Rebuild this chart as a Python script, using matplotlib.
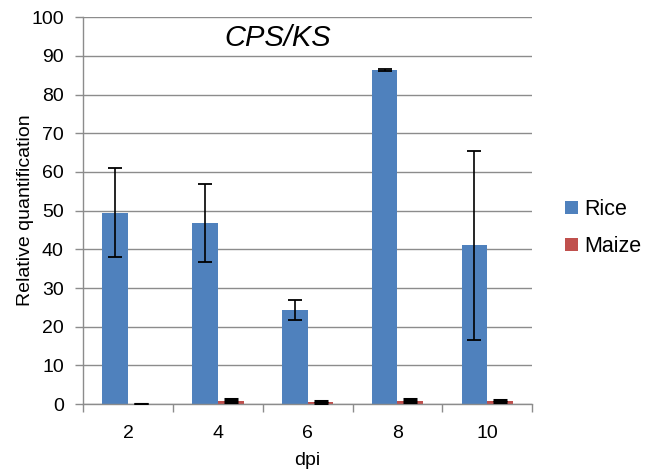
import numpy as np
import matplotlib.pyplot as plt

dpi_labels = ['2', '4', '6', '8', '10']
rice = [49.5, 46.8, 24.3, 86.3, 41.0]
rice_err = [11.5, 10.0, 2.5, 0.2, 24.4]
maize = [0.1, 0.9, 0.6, 0.9, 0.8]
maize_err = [0.05, 0.3, 0.3, 0.3, 0.2]

plt.rcParams['font.family'] = ['Liberation Sans', 'DejaVu Sans']

fig = plt.figure(figsize=(6.45, 4.76), dpi=100)
ax = fig.add_axes([0.129, 0.151, 0.696, 0.813])

x = np.arange(len(dpi_labels))
w = 0.286
grid_c = '#8c8c8c'

ax.bar(x - w/2, rice, w, color='#4f81bd', label='Rice', zorder=2)
ax.bar(x + w/2, maize, w, color='#c0504d', label='Maize', zorder=2)
ax.errorbar(x - w/2, rice, yerr=rice_err, fmt='none', ecolor='black',
            elinewidth=1.2, capsize=5, capthick=1.3, zorder=3)
ax.errorbar(x + w/2, maize, yerr=maize_err, fmt='none', ecolor='black',
            elinewidth=1.2, capsize=5, capthick=2.2, zorder=3)

ax.set_xlim(-0.5, len(dpi_labels) - 0.5)
ax.set_ylim(0, 100)
ax.set_yticks(range(0, 101, 10))
ax.yaxis.grid(True, color=grid_c, linewidth=1.0, zorder=0)
ax.set_axisbelow(True)

ax.set_xticks(x)
ax.set_xticklabels(dpi_labels)
ax.set_xticks(np.arange(-0.5, len(dpi_labels)), minor=True)
ax.tick_params(axis='x', which='major', length=0, labelsize=14, pad=15)
ax.tick_params(axis='x', which='minor', length=6, color=grid_c, width=1.0)
ax.tick_params(axis='y', length=6, color=grid_c, width=1.0, labelsize=14, pad=8)

for s in ['top', 'right']:
    ax.spines[s].set_visible(False)
for s in ['left', 'bottom']:
    ax.spines[s].set_color(grid_c)
    ax.spines[s].set_linewidth(1.0)

ax.set_xlabel('dpi', fontsize=14, labelpad=7)
ax.set_ylabel('Relative quantification', fontsize=14, labelpad=-2)

ax.text(0.434, 0.945, 'CPS/KS', transform=ax.transAxes, fontsize=21,
        style='italic', ha='center', va='center')

ax.legend(loc='center left', bbox_to_anchor=(1.03, 0.455), frameon=False,
          fontsize=15.5, handlelength=0.6, handleheight=0.6, labelspacing=0.75,
          handletextpad=0.3)

fig.savefig('out.png', dpi=100)
